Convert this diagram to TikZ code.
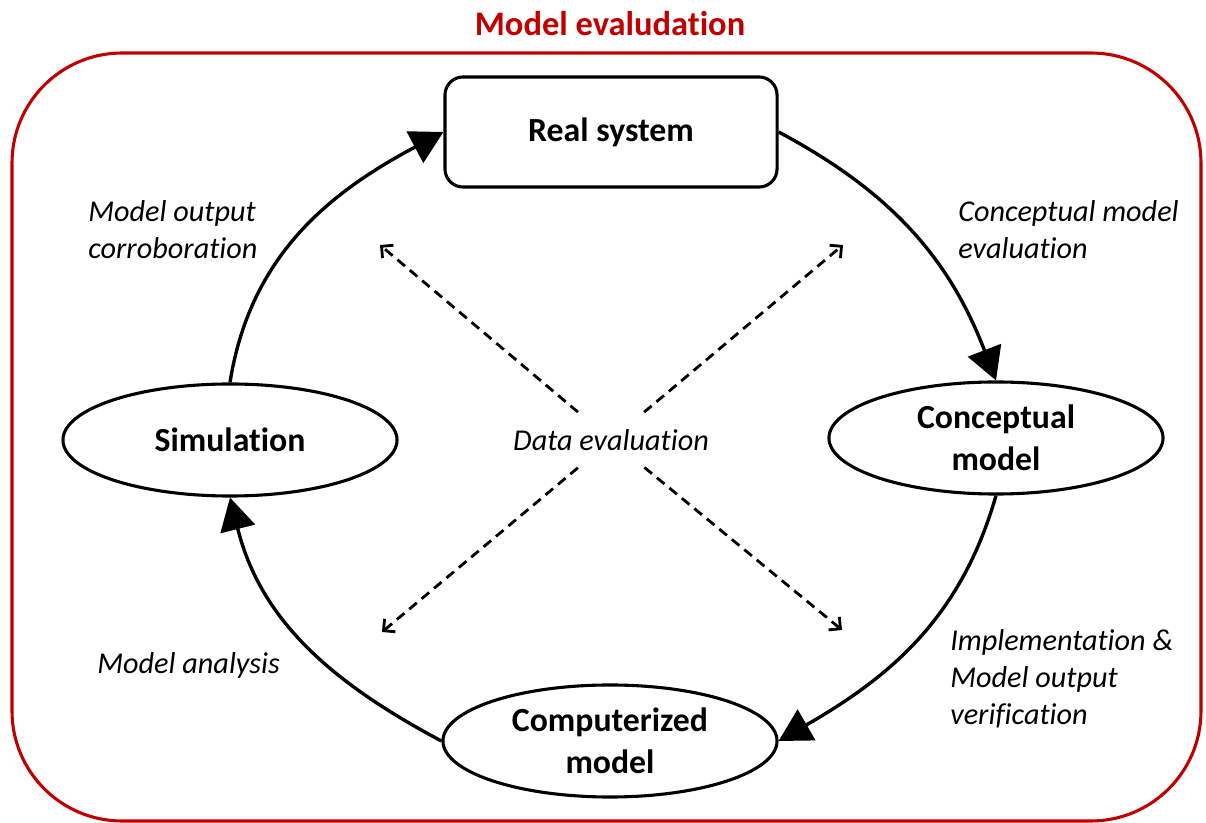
\documentclass[tikz,border=0pt]{standalone}
\usepackage{fontspec}
\setmainfont{Carlito}[Ligatures=NoCommon]
\usetikzlibrary{arrows.meta,shapes.geometric}
\definecolor{evalred}{RGB}{192,0,0}
\begin{document}
\begin{tikzpicture}[x=0.025cm, y=0.025cm,
		stage/.style={draw, ellipse, line width=2.2pt, minimum width=8.35cm, minimum height=2.8cm, inner sep=0pt, align=center, font=\fontsize{24}{30}\selectfont\bfseries},
		note/.style={anchor=west, inner sep=0pt, align=left, font=\fontsize{21.5}{26.3}\selectfont\itshape},
		cycle/.style={line width=2.4pt, -{Triangle[length=23pt,width=25pt]}},
		dataflow/.style={line width=2pt, dash pattern=on 7pt off 4.5pt, -{Straight Barb[length=6pt,width=12pt]}, shorten <=1.08cm}]
		\useasboundingbox (0,0) rectangle (1206,823);
		\node[text=evalred, inner sep=0pt, font=\fontsize{24.5}{30}\selectfont\bfseries] (title) at (610,799) {Model evaludation};
		\draw[evalred, line width=2.2pt, rounded corners=2.75cm] (12,2) rectangle (1201,770);
		\node[draw, line width=2.2pt, rounded corners=0.45cm, minimum width=8.3cm, minimum height=2.75cm, font=\fontsize{24}{30}\selectfont\bfseries] (real) at (611,691) {Real system};
		\node[stage] (sim) at (230,383) {Simulation};
		\node[stage] (concept) at (996,385) {Conceptual\\model};
		\node[stage] (comp) at (610,82) {Computerized\\model};
		\node[inner sep=0pt, font=\fontsize{21.5}{26.3}\selectfont\itshape] (data) at (611,383) {Data evaluation};
		\node[note] (corrob) at (88,593) {Model output\\corroboration};
		\node[note] (ceval) at (958,593) {Conceptual model\\evaluation};
		\node[note] (analysis) at (97,158) {Model analysis};
		\node[note] (verif) at (950,144) {Implementation \&\\Model output\\verification};
		\coordinate (nw) at (380,578);
		\coordinate (ne) at (843,578);
		\coordinate (sw) at (382,191);
		\coordinate (se) at (842,193);
		\draw[cycle] (sim.north) to[out=81, in=208] (real.west);
		\draw[cycle] (real.east) to[out=-28, in=111] (concept.north);
		\draw[cycle] (concept.south) to[out=-106, in=30] (comp.east);
		\draw[cycle] (comp.west) to[out=152, in=-76] (sim.south);
		\draw[dataflow] (data.center) -- (nw);
		\draw[dataflow] (data.center) -- (ne);
		\draw[dataflow] (data.center) -- (sw);
		\draw[dataflow] (data.center) -- (se);
	\end{tikzpicture}
\end{document}
